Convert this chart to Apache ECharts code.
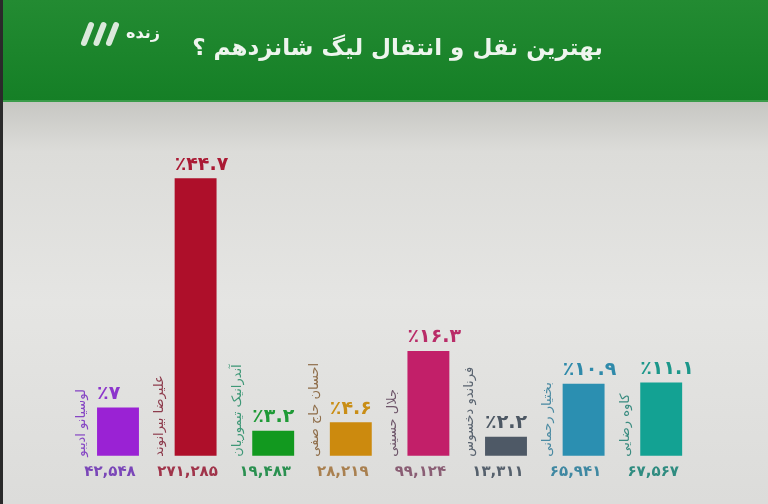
<!DOCTYPE html>
<html>
<head>
<meta charset="utf-8">
<script src="https://cdn.jsdelivr.net/npm/echarts@6/dist/echarts.min.js"></script>
<style>
html,body{margin:0;padding:0;background:#e2e2e0;}
#chart{width:768px;height:504px;}
</style>
</head>
<body>
<div id="chart"></div>
<script>
// ---- data ----
var names = ['لوسیانو ادیبو', 'علیرضا بیرانوند', 'آندرانیک تیموریان', 'احسان حاج صفی', 'جلال حسینی', 'فرناندو دخسوس', 'بختیار رحمانی', 'کاوه رضایی'];
var percents = [7, 44.7, 3.2, 4.6, 16.3, 2.2, 10.9, 11.1];
var votes = [42548, 271285, 19483, 28219, 99124, 13311, 65941, 67567];
var titleText = 'بهترین نقل و انتقال لیگ شانزدهم ؟';
var logoText = 'زنده';

// ---- styles ----
var barColors = ['#9a22d4', '#ae0f2a', '#12991f', '#cc8a0e', '#c21f69', '#4e5966', '#2b8fb1', '#13a293'];
var pctColors = ['#8c36cc', '#aa1a34', '#1f9a36', '#c98e16', '#b92c68', '#4d5864', '#2f8aaa', '#1c978a'];
var nameColors = ['#8646c4', '#8d3b4c', '#3f9877', '#8f6e4a', '#6e566a', '#5a6470', '#4a8aa2', '#3b8c80'];
var countColors = ['#7a46b8', '#a0344a', '#2a9050', '#a98050', '#8a5e74', '#55606c', '#3f88a2', '#2f8c80'];
var FONT = '"DejaVu Sans", sans-serif';

function toFa(s) {
  return String(s).replace(/\d/g, function (d) { return '۰۱۲۳۴۵۶۷۸۹'[d]; });
}

var chart = echarts.init(document.getElementById('chart'), null, {renderer: 'canvas'});

var option = {
  animation: false,
  backgroundColor: {
    type: 'linear', x: 0, y: 0, x2: 0, y2: 1,
    colorStops: [
      {offset: 0, color: '#c8c8c4'},
      {offset: 0.2, color: '#c6c6c2'},
      {offset: 0.3, color: '#dcdcd9'},
      {offset: 0.6, color: '#e5e5e3'},
      {offset: 1, color: '#dcdcda'}
    ]
  },
  graphic: [
    {type: 'rect', left: 0, top: 0, shape: {width: 768, height: 101}, z: 0,
      style: {fill: {type: 'linear', x: 0, y: 0, x2: 0, y2: 1,
        colorStops: [{offset: 0, color: '#238b32'}, {offset: 1, color: '#157f26'}]}}},
    {type: 'rect', left: 0, top: 100, shape: {width: 768, height: 2}, style: {fill: '#3a9c4a'}},
    {type: 'rect', left: 0, top: 0, shape: {width: 3, height: 504}, style: {fill: '#2a2a2a'}},
    {type: 'text', x: 603, y: 49, style: {text: titleText, align: 'right', verticalAlign: 'middle',
      fill: '#eef5ee', font: 'bold 23px ' + FONT}},
    {type: 'text', x: 160, y: 34, style: {text: logoText, align: 'right', verticalAlign: 'middle',
      fill: '#f2f6f2', font: 'bold 16px ' + FONT}},
    {type: 'line', shape: {x1: 84, y1: 43, x2: 91, y2: 25}, style: {stroke: '#dbe9dc', lineWidth: 6, lineCap: 'round'}},
    {type: 'line', shape: {x1: 96.5, y1: 43, x2: 103.5, y2: 25}, style: {stroke: '#dbe9dc', lineWidth: 6, lineCap: 'round'}},
    {type: 'line', shape: {x1: 109, y1: 43, x2: 116, y2: 25}, style: {stroke: '#dbe9dc', lineWidth: 6, lineCap: 'round'}}
  ],
  grid: {left: 79.2, right: 68, top: 151.6, bottom: 48.3},
  xAxis: {type: 'category', data: names, show: false, boundaryGap: true},
  yAxis: {type: 'value', min: -0.92, max: 49.08, show: false, splitLine: {show: false}},
  series: [{
    type: 'custom',
    encode: {x: 0, y: 1},
    data: percents.map(function (v, i) { return [i, v]; }),
    renderItem: function (params, api) {
      var i = api.value(0), v = api.value(1);
      var top = api.coord([i, v]);
      var cs = params.coordSys;
      var base = cs.y + cs.height;
      var bw = api.size([1, 0])[0] * 0.54;
      var left = top[0] - bw / 2;
      return {
        type: 'group',
        children: [
          {type: 'rect', shape: {x: left, y: top[1], width: bw, height: base - top[1]},
            style: {fill: barColors[i]}},
          {type: 'text', x: left, y: top[1] - 4,
            style: {text: '٪' + toFa(v), align: 'left', verticalAlign: 'bottom',
              fill: pctColors[i], font: 'bold 19px ' + FONT}},
          {type: 'text', x: left - 15, y: base + 1, rotation: Math.PI / 2,
            style: {text: names[i], align: 'left', verticalAlign: 'middle',
              fill: nameColors[i], font: '13px ' + FONT}},
          {type: 'text', x: top[0] - 8, y: base + 16,
            style: {text: toFa(votes[i].toLocaleString('en-US')), align: 'center', verticalAlign: 'middle',
              fill: countColors[i], font: 'bold 15px ' + FONT}}
        ]
      };
    }
  }]
};
chart.setOption(option);
</script>
</body>
</html>
